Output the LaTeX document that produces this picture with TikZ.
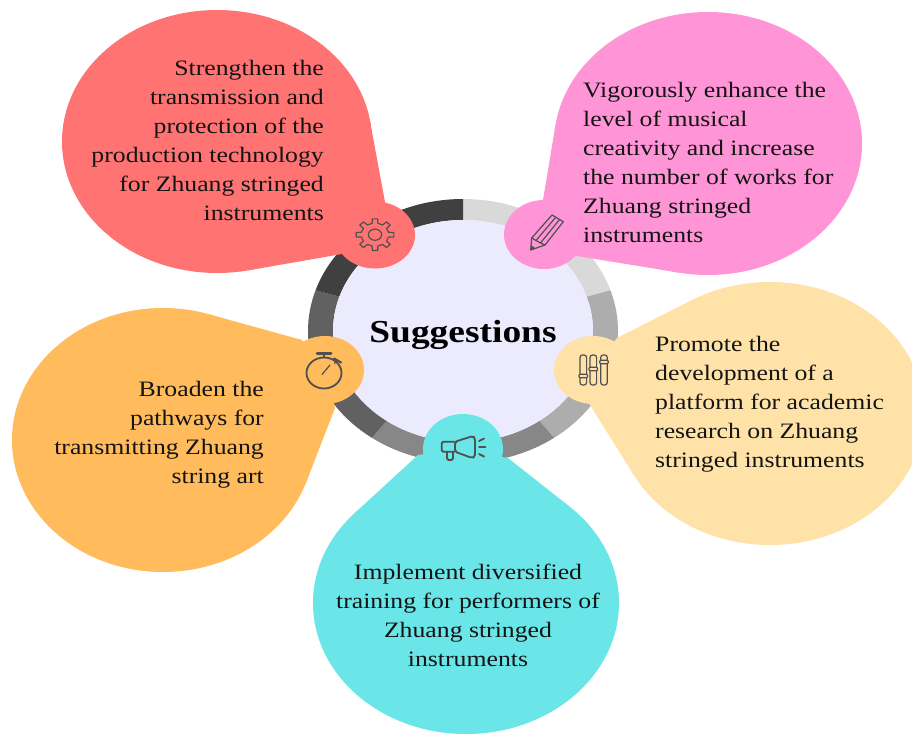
\documentclass[tikz,border=0pt]{standalone}
\usepackage{fontspec}
\setmainfont[FakeStretch=1.17]{Liberation Serif}
\definecolor{cred}{HTML}{FF7373}
\definecolor{cpink}{HTML}{FF94D6}
\definecolor{cyel}{HTML}{FFE2A8}
\definecolor{corg}{HTML}{FFBB5C}
\definecolor{cteal}{HTML}{6AE6E9}
\definecolor{cdisc}{HTML}{ECEBFD}
\definecolor{cicon}{HTML}{505050}
\definecolor{ctext}{HTML}{141414}
\tikzset{
  bubbletext/.style={inner sep=0pt,text=ctext,font=\fontsize{22}{29}\selectfont},
  ico/.style={draw=cicon,line width=1.2pt,line join=round,line cap=round},
  icothick/.style={ico,line width=1.8pt},
}
\newcommand{\ringseg}[3]{%
  \fill[#3] (#1:155 and 132) arc[start angle=#1,end angle=#2,x radius=155,y radius=132]
    -- (#2:130 and 111) arc[start angle=#2,end angle=#1,x radius=130,y radius=111] -- cycle;}
\begin{document}
\begin{tikzpicture}[x=1pt,y=-1pt]
\useasboundingbox (0,0) rectangle (912,734);
\fill[white] (0,0) rectangle (912,734);
% ring and disc (y axis points down, so angles run clockwise)
\begin{scope}[shift={(463,331)}]
  \ringseg{-90}{-18}{black!15}
  \ringseg{-18}{54}{black!32}
  \ringseg{54}{126}{black!47}
  \ringseg{126}{198}{black!62}
  \ringseg{198}{270}{black!75}
  \fill[cdisc] (0,0) ellipse[x radius=130,y radius=111];
\end{scope}
\node[font=\bfseries\fontsize{32}{36}\selectfont,inner sep=0pt,anchor=base] (title) at (463,342.5) {Suggestions};
% bubbles: body ellipse, tangent tail polygon, head ellipse
\fill[cred] (217,141.5) ellipse[x radius=155,y radius=131.5];
\fill[cred] (370,121) -- (385,202) -- (375,235) -- (342,254) -- (248,270.4) -- (217,141) -- cycle;
\fill[cred] (375,235) ellipse[x radius=40,y radius=33.5];
\fill[cpink] (708,143.5) ellipse[x radius=154,y radius=131.5];
\fill[cpink] (555.5,125) -- (543,200) -- (544,234) -- (577,256) -- (679.4,272.7) -- (708,143) -- cycle;
\fill[cpink] (544,234.5) ellipse[x radius=40,y radius=34.5];
\fill[corg] (163,440) ellipse[x radius=151,y radius=132];
\fill[corg] (208,314) -- (302,340) -- (325,370) -- (335,408) -- (306,482.7) -- (163,440) -- cycle;
\fill[corg] (325,370) ellipse[x radius=39,y radius=34];
\fill[cyel] (770,413.5) ellipse[x radius=154,y radius=131.5];
\fill[cyel] (691.6,300.3) -- (617,338) -- (593,370) -- (590,405) -- (634.3,475.7) -- (770,413) -- cycle;
\fill[cyel] (593,370) ellipse[x radius=39,y radius=34];
\fill[cteal] (466,603) ellipse[x radius=153,y radius=131];
\fill[cteal] (354,513.7) -- (418,455) -- (463,449) -- (508,458) -- (570,507) -- (466,603) -- cycle;
\fill[cteal] (463,449) ellipse[x radius=40,y radius=35];
% texts
\node[bubbletext,align=right,anchor=north east] (t1) at (324,60) {Strengthen the\\transmission and\\protection of the\\production technology\\for Zhuang stringed\\instruments};
\node[bubbletext,align=left,anchor=north west] (t2) at (583,82) {Vigorously enhance the\\level of musical\\creativity and increase\\the number of works for\\Zhuang stringed\\instruments};
\node[bubbletext,align=left,anchor=north west] (t3) at (655,336) {Promote the\\development of a\\platform for academic\\research on Zhuang\\stringed instruments};
\node[bubbletext,align=right,anchor=north east] (t4) at (264,381) {Broaden the\\pathways for\\transmitting Zhuang\\string art};
\node[bubbletext,align=center,anchor=north] (t5) at (468,564) {Implement diversified\\training for performers of\\Zhuang stringed\\instruments};
% gear
\begin{scope}[shift={(375,234.7)},xscale=1.19]
  \draw[ico] (-12:11.6) \foreach \a in {0,45,...,315}{ -- (\a-12:11.6) -- (\a-8:16) -- (\a+8:16) -- (\a+12:11.6) } -- cycle;
  \draw[ico] (0,0) circle[radius=5.6];
\end{scope}
% pencil
\draw[ico] (552,215) -- (563.3,221.7) -- (545,245) -- (530.7,250) -- (531.7,238) -- cycle;
\draw[ico] (531.7,238) -- (536,240.5) -- (540.5,243) -- (545,245);
\draw[ico] (536,240.5) -- (555.8,217.2);
\draw[ico] (540.5,243) -- (559.5,219.5);
\fill[cicon] (530.7,250) -- (531,245) -- (535.5,248.3) -- cycle;
% sliders
\foreach \x/\k in {583.3/376,593.3/369,604/362}{
  \draw[ico,rounded corners=2.5pt] (\x-3.3,355) rectangle (\x+3.3,385);
  \draw[ico,fill=cyel,rounded corners=1pt] (\x-4.3,\k-1.7) rectangle (\x+4.3,\k+1.7);
}
% megaphone
\draw[icothick,rounded corners=1.5pt] (455,441.7) -- (441.7,441.7) -- (441.7,451.7) -- (455,451.7);
\draw[icothick,rounded corners=2pt] (455,441.7) -- (473,436) -- (475,438) -- (475,457) -- (472,458) -- (455,451.7) -- cycle;
\draw[icothick,rounded corners=1.5pt] (447,451.7) -- (447,460) -- (453,460) -- (453,451.7);
\draw[icothick] (479,441) -- (484,438.5) (479,447) -- (485.5,447) (479,454) -- (484,456.5);
% stopwatch
\draw[icothick] (324,373) ellipse[x radius=17.5,y radius=15.5];
\draw[ico,line width=3pt] (317,353) -- (331,353);
\draw[icothick] (324,353) -- (324,357.5);
\draw[ico,line width=2.2pt] (334,358.5) -- (341,362.5);
\draw[ico] (336.5,360.5) -- (334.5,363.5);
\draw[ico] (322,374.5) -- (330,365);
\end{tikzpicture}
\end{document}
